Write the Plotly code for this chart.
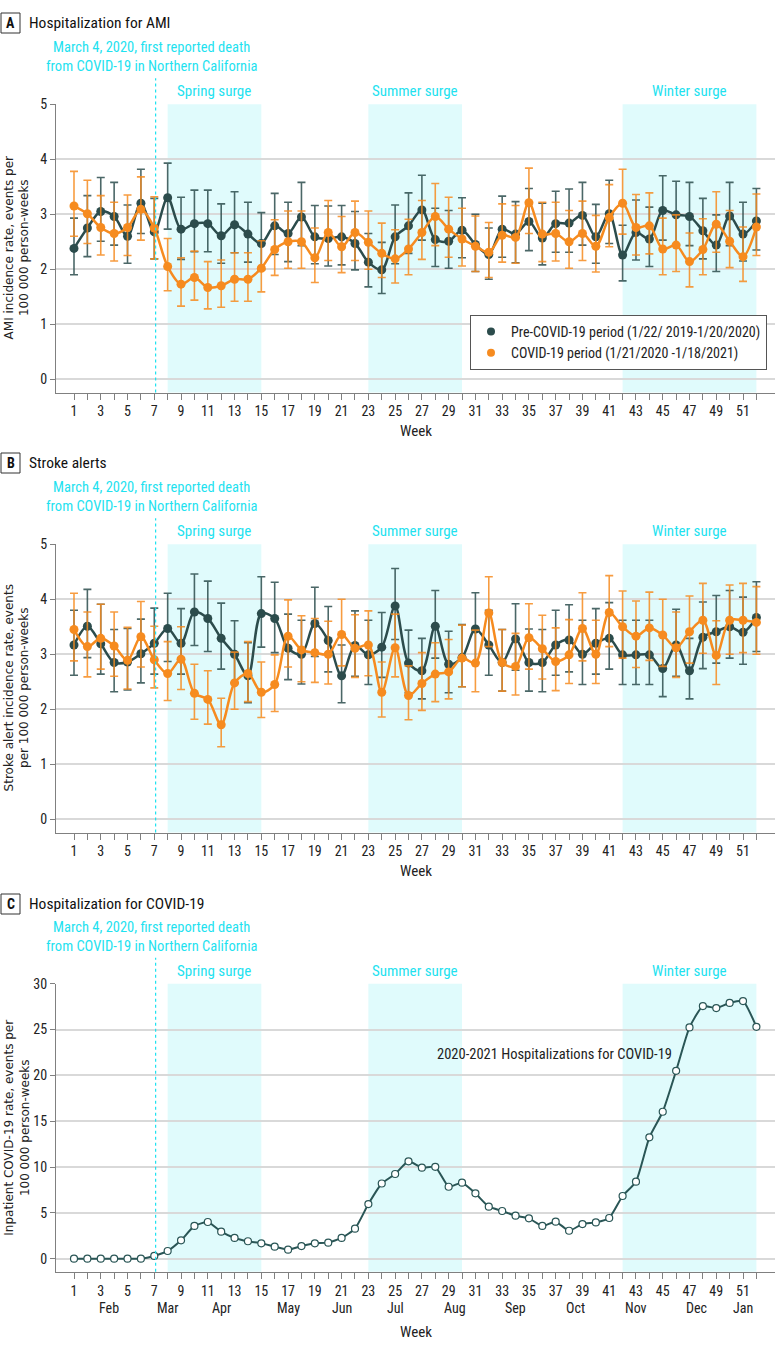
import plotly.graph_objects as go

W, H = 780, 1349

weeks = list(range(1, 53))
odd_week_labels = [str(w) if w % 2 == 1 else '' for w in weeks]

# Panel A - AMI hospitalization rate per 100 000 person-weeks
ami_pre = [2.38, 2.75, 3.05, 2.96, 2.60, 3.20, 2.68, 3.30, 2.73, 2.83, 2.83, 2.61, 2.81, 2.64, 2.47, 2.79, 2.65,
           2.95, 2.59, 2.56, 2.59, 2.47, 2.13, 1.99, 2.59, 2.79, 3.08, 2.54, 2.51, 2.71, 2.45, 2.27, 2.73, 2.64,
           2.87, 2.57, 2.83, 2.84, 2.98, 2.59, 3.01, 2.26, 2.67, 2.55, 3.07, 2.99, 2.96, 2.70, 2.44, 2.97, 2.64, 2.88]
ami_pre_hi = [2.93, 3.34, 3.67, 3.58, 3.17, 3.82, 3.29, 3.93, 3.31, 3.44, 3.44, 3.19, 3.41, 3.22, 3.03, 3.38, 3.22,
              3.58, 3.16, 3.15, 3.16, 3.05, 2.65, 2.49, 3.17, 3.39, 3.71, 3.11, 3.07, 3.30, 3.00, 2.75, 3.33, 3.23,
              3.47, 3.20, 3.42, 3.46, 3.58, 3.18, 3.62, 2.80, 3.26, 3.13, 3.70, 3.60, 3.58, 3.29, 2.99, 3.58, 3.22, 3.47]
ami_pre_lo = [1.90, 2.23, 2.51, 2.44, 2.11, 2.65, 2.19, 2.73, 2.18, 2.32, 2.32, 2.11, 2.30, 2.13, 1.99, 2.27, 2.14,
              2.43, 2.10, 2.06, 2.08, 1.99, 1.68, 1.56, 2.10, 2.29, 2.53, 2.05, 2.02, 2.21, 1.96, 1.82, 2.22, 2.12,
              2.34, 2.08, 2.31, 2.31, 2.44, 2.11, 2.47, 1.79, 2.17, 2.05, 2.53, 2.44, 2.43, 2.19, 1.96, 2.43, 2.15, 2.35]
ami_cov = [3.15, 3.01, 2.76, 2.65, 2.76, 3.09, 2.75, 2.05, 1.73, 1.85, 1.67, 1.70, 1.82, 1.82, 2.02, 2.36, 2.50,
           2.50, 2.21, 2.67, 2.41, 2.67, 2.49, 2.29, 2.19, 2.37, 2.67, 2.96, 2.73, 2.55, 2.42, 2.31, 2.62, 2.58,
           3.21, 2.64, 2.65, 2.50, 2.65, 2.42, 2.94, 3.20, 2.76, 2.79, 2.37, 2.44, 2.14, 2.36, 2.82, 2.51, 2.23, 2.77]
ami_cov_hi = [3.78, 3.62, 3.34, 3.22, 3.35, 3.68, 3.32, 2.56, 2.21, 2.33, 2.14, 2.17, 2.30, 2.30, 2.52, 2.90, 3.06,
              3.06, 2.75, 3.25, 2.96, 3.24, 3.06, 2.84, 2.72, 2.91, 3.25, 3.56, 3.31, 3.11, 2.97, 2.85, 3.19, 3.16,
              3.84, 3.22, 3.22, 3.07, 3.24, 2.98, 3.54, 3.82, 3.36, 3.39, 2.93, 2.99, 2.66, 2.92, 3.41, 3.07, 2.77, 3.37]
ami_cov_lo = [2.60, 2.47, 2.26, 2.15, 2.25, 2.53, 2.19, 1.61, 1.33, 1.44, 1.28, 1.31, 1.42, 1.42, 1.59, 1.89, 2.02,
              2.02, 1.76, 2.16, 1.94, 2.16, 2.00, 1.85, 1.75, 1.90, 2.18, 2.43, 2.22, 2.06, 1.96, 1.85, 2.13, 2.11,
              2.65, 2.14, 2.15, 2.02, 2.16, 1.95, 2.41, 2.64, 2.26, 2.28, 1.90, 1.96, 1.68, 1.90, 2.31, 2.03, 1.78, 2.25]

# Panel B - stroke alerts per 100 000 person-weeks
stroke_pre = [3.17, 3.51, 3.19, 2.85, 2.86, 3.01, 3.20, 3.47, 3.20, 3.77, 3.65, 3.29, 3.00, 2.61, 3.74, 3.65, 3.11,
              3.00, 3.56, 3.25, 2.61, 3.16, 2.99, 3.13, 3.88, 2.84, 2.70, 3.51, 2.82, 2.94, 3.46, 3.17, 2.85, 3.28,
              2.85, 2.85, 3.17, 3.26, 3.00, 3.20, 3.29, 2.99, 2.99, 2.99, 2.74, 3.17, 2.70, 3.31, 3.41, 3.50, 3.40, 3.67]
stroke_pre_hi = [3.80, 4.18, 3.91, 3.45, 3.47, 3.64, 3.84, 4.11, 3.83, 4.46, 4.33, 3.93, 3.61, 3.21, 4.41, 4.31, 3.73,
                 3.62, 4.22, 3.87, 3.17, 3.79, 3.62, 3.76, 4.56, 3.44, 3.29, 4.16, 3.42, 3.54, 4.12, 3.80, 3.45, 3.92,
                 3.46, 3.45, 3.80, 3.90, 3.62, 3.83, 3.94, 3.62, 3.62, 3.62, 3.34, 3.82, 3.29, 3.95, 4.07, 4.16, 4.04, 4.32]
stroke_pre_lo = [2.62, 2.94, 2.64, 2.32, 2.35, 2.48, 2.64, 2.87, 2.64, 3.16, 3.05, 2.73, 2.48, 2.12, 3.13, 3.03, 2.54,
                 2.46, 2.96, 2.68, 2.12, 2.60, 2.45, 2.58, 3.27, 2.30, 2.19, 2.93, 2.30, 2.41, 2.85, 2.62, 2.33, 2.71,
                 2.33, 2.32, 2.62, 2.68, 2.45, 2.64, 2.73, 2.45, 2.45, 2.45, 2.23, 2.60, 2.19, 2.74, 2.84, 2.93, 2.82, 3.05]
stroke_cov = [3.45, 3.14, 3.29, 3.15, 2.89, 3.32, 2.90, 2.65, 2.91, 2.29, 2.18, 1.72, 2.48, 2.65, 2.31, 2.45, 3.33,
              3.08, 3.03, 3.00, 3.36, 3.11, 3.17, 2.31, 3.12, 2.25, 2.47, 2.64, 2.68, 2.93, 2.84, 3.75, 2.85, 2.78,
              3.30, 3.10, 2.87, 2.99, 3.47, 3.00, 3.76, 3.50, 3.33, 3.48, 3.35, 3.12, 3.41, 3.62, 2.98, 3.62, 3.62, 3.58]
stroke_cov_hi = [4.11, 3.77, 3.91, 3.77, 3.49, 3.96, 3.51, 3.23, 3.50, 2.82, 2.70, 2.20, 3.04, 3.23, 2.86, 2.99, 3.99,
                 3.70, 3.65, 3.60, 4.00, 3.72, 3.79, 2.86, 3.73, 2.79, 3.03, 3.21, 3.27, 3.53, 3.44, 4.41, 3.45, 3.38,
                 3.92, 3.71, 3.48, 3.63, 4.12, 3.62, 4.43, 4.15, 3.97, 4.13, 4.00, 3.77, 4.06, 4.29, 3.61, 4.26, 4.29, 4.23]
stroke_cov_lo = [2.88, 2.59, 2.73, 2.60, 2.37, 2.77, 2.39, 2.16, 2.36, 1.82, 1.73, 1.32, 2.00, 2.14, 1.85, 1.96, 2.77,
                 2.50, 2.49, 2.46, 2.79, 2.58, 2.61, 1.86, 2.59, 1.81, 1.98, 2.14, 2.19, 2.41, 2.32, 3.14, 2.33, 2.26,
                 2.73, 2.55, 2.34, 2.47, 2.88, 2.47, 3.14, 2.93, 2.76, 2.89, 2.78, 2.58, 2.84, 3.02, 2.45, 3.00, 3.03, 3.00]

# Panel C - inpatient COVID-19 rate per 100 000 person-weeks
covid_hosp = [0, 0, 0, 0, 0, 0, 0.3, 0.84, 2.0, 3.57, 4.0, 2.95, 2.26, 1.9, 1.68, 1.31, 0.98, 1.38, 1.68, 1.75,
              2.26, 3.27, 5.96, 8.2, 9.24, 10.62, 9.93, 10.02, 7.85, 8.29, 7.13, 5.67, 5.2, 4.69, 4.4, 3.57, 4.04,
              3.05, 3.78, 3.96, 4.44, 6.84, 8.4, 13.24, 16.03, 20.5, 25.23, 27.56, 27.34, 27.9, 28.1, 25.3]

months = ['Feb', 'Mar', 'Apr', 'May', 'Jun', 'Jul', 'Aug', 'Sep', 'Oct', 'Nov', 'Dec', 'Jan']
month_weeks = [3.6, 8.05, 12, 17, 21, 25, 29.5, 34, 38.5, 43, 47.5, 51]

surges = [('Spring surge', 8, 15), ('Summer surge', 23, 30), ('Winter surge', 42, 52)]
first_death_week = 7.1

pre_name = 'Pre-COVID-19 period (1/22/ 2019-1/20/2020)'
cov_name = 'COVID-19 period (1/21/2020 -1/18/2021)'

DARK = '#2c4c4c'
ORANGE = '#f68b1f'
CYAN = '#1ee2f0'
SHADE = '#e0fbfc'
GRID = '#d9d9d9'
AXIS = '#808080'
NARROW = 'Liberation Sans Narrow, Roboto Condensed, Arial Narrow, Roboto, sans-serif'
WIDE = 'DejaVu Sans, sans-serif'


def px(x):
    return x / W


def py(y):
    return 1 - y / H


# pixel boxes of the three plot areas (top, bottom)
panels = [
    dict(top=104.3, bottom=392.5, yr=[-0.24, 5], dt=1, letter='A', title='Hospitalization for AMI',
         ytitle='AMI incidence rate, events per<br>100 000 person-weeks', title_y=23),
    dict(top=544.3, bottom=832.5, yr=[-0.24, 5], dt=1, letter='B', title='Stroke alerts',
         ytitle='Stroke alert incidence rate, events<br>per 100 000 person-weeks', title_y=463),
    dict(top=983.7, bottom=1271.7, yr=[-1.42, 30], dt=5, letter='C', title='Hospitalization for COVID-19',
         ytitle='Inpatient COVID-19 rate, events per<br>100 000 person-weeks', title_y=904),
]
x_left, x_right = 56, 775

fig = go.Figure()


def err(v, hi, lo):
    return dict(type='data', symmetric=False,
                array=[h - a for a, h in zip(v, hi)],
                arrayminus=[a - l for a, l in zip(v, lo)])


series = [
    (1, ami_pre, ami_pre_hi, ami_pre_lo, DARK, 'rgba(44,76,76,0.85)'),
    (1, ami_cov, ami_cov_hi, ami_cov_lo, ORANGE, 'rgba(246,139,31,0.85)'),
    (2, stroke_pre, stroke_pre_hi, stroke_pre_lo, DARK, 'rgba(44,76,76,0.85)'),
    (2, stroke_cov, stroke_cov_hi, stroke_cov_lo, ORANGE, 'rgba(246,139,31,0.85)'),
]
for i, v, hi, lo, col, ecol in series:
    sfx = '' if i == 1 else str(i)
    e = err(v, hi, lo)
    e.update(color=ecol, thickness=1.6, width=4)
    fig.add_trace(go.Scatter(x=weeks, y=v, mode='lines+markers', error_y=e,
                             line=dict(color=col, width=2.5, shape='spline', smoothing=0.9),
                             marker=dict(color=col, size=9), showlegend=False,
                             xaxis='x' + sfx, yaxis='y' + sfx))

fig.add_trace(go.Scatter(x=weeks, y=covid_hosp, mode='lines+markers',
                         line=dict(color='#2a5656', width=2, shape='spline', smoothing=0.5),
                         marker=dict(color='white', size=7, line=dict(color='#2a5656', width=1.2)),
                         showlegend=False, xaxis='x3', yaxis='y3'))

# legend-only markers
fig.add_trace(go.Scatter(x=[None], y=[None], mode='markers', name=pre_name,
                         marker=dict(color=DARK, size=8)))
fig.add_trace(go.Scatter(x=[None], y=[None], mode='markers', name=cov_name,
                         marker=dict(color=ORANGE, size=8)))

shapes = []
annotations = []
layout_axes = {}
for n, p in enumerate(panels, start=1):
    sfx = '' if n == 1 else str(n)
    dom = [py(p['bottom']), py(p['top'])]
    layout_axes['xaxis' + sfx] = dict(domain=[px(x_left), px(x_right)], range=[-0.345, 53.39],
                                      anchor='y' + sfx, tickmode='array', tickvals=weeks,
                                      ticktext=odd_week_labels, ticks='outside', ticklen=6,
                                      tickcolor=AXIS, showline=True, linecolor=AXIS, linewidth=1,
                                      showgrid=False, zeroline=False, automargin=False,
                                      tickfont=dict(family=NARROW, size=14, color='#222'))
    layout_axes['yaxis' + sfx] = dict(domain=dom, range=p['yr'], anchor='x' + sfx, dtick=p['dt'],
                                      ticks='outside', ticklen=5, tickcolor=AXIS, showline=True,
                                      linecolor=AXIS, linewidth=1, gridcolor=GRID, gridwidth=1.5,
                                      zeroline=False, automargin=False,
                                      tickfont=dict(family=NARROW, size=14, color='#222'))
    xr = 'x' + sfx
    yd = ('y' + sfx) + ' domain'
    for label, a, b in surges:
        shapes.append(dict(type='rect', xref=xr, yref=yd, x0=a, x1=b, y0=0, y1=1,
                           fillcolor=SHADE, line=dict(width=0), layer='below'))
        annotations.append(dict(text=label, xref=xr, yref='paper', x=(a + b) / 2, y=dom[1],
                                xanchor='center', yanchor='bottom', yshift=2, showarrow=False,
                                font=dict(family=NARROW, size=15, color=CYAN)))
    shapes.append(dict(type='line', xref=xr, yref='paper', x0=first_death_week, x1=first_death_week,
                       y0=dom[0], y1=py(p['top'] - 26), line=dict(color=CYAN, width=1.2, dash='dot')))
    annotations.append(dict(text='March 4, 2020, first reported death<br>from COVID-19 in Northern California',
                            xref='paper', yref='paper', x=px(151), y=py(p['top'] - 27), xanchor='center',
                            yanchor='bottom', showarrow=False, font=dict(family=NARROW, size=14.5, color=CYAN)))
    # panel letter box and title
    ty = p['title_y']
    shapes.append(dict(type='rect', xref='paper', yref='paper', x0=px(1), x1=px(20),
                       y0=py(ty + 10), y1=py(ty - 10), line=dict(color='#333', width=1)))
    annotations.append(dict(text='<b>' + p['letter'] + '</b>', xref='paper', yref='paper', x=px(10.5),
                            y=py(ty), xanchor='center', yanchor='middle', showarrow=False,
                            font=dict(family=NARROW, size=14, color='#111')))
    annotations.append(dict(text=p['title'], xref='paper', yref='paper', x=px(27), y=py(ty),
                            xanchor='left', yanchor='middle', showarrow=False,
                            font=dict(family=NARROW, size=15.5, color='#111')))
    # y title
    annotations.append(dict(text=p['ytitle'], xref='paper', yref='paper', x=px(17),
                            y=(dom[0] + dom[1]) / 2, xanchor='center', yanchor='middle',
                            textangle=-90, showarrow=False,
                            font=dict(family=WIDE, size=12, color='#222')))
    # x title
    wy = p['bottom'] + (60 if n == 3 else 38)
    annotations.append(dict(text='Week', xref='paper', yref='paper', x=px((x_left + x_right) / 2),
                            y=py(wy), xanchor='center', yanchor='middle', showarrow=False,
                            font=dict(family=NARROW, size=15, color='#222')))

for m, wk in zip(months, month_weeks):
    annotations.append(dict(text=m, xref='x3', yref='paper', x=wk, y=py(1308), xanchor='center',
                            yanchor='middle', showarrow=False,
                            font=dict(family=NARROW, size=14, color='#222')))

annotations.append(dict(text='2020-2021 Hospitalizations for COVID-19', xref='x3', yref='y3', x=36.9, y=22.3,
                        xanchor='center', yanchor='middle', showarrow=False,
                        font=dict(family=NARROW, size=14.5, color='#222')))

fig.update_layout(width=W, height=H, autosize=False,
                  margin=dict(l=0, r=0, t=0, b=0, pad=0, autoexpand=False),
                  plot_bgcolor='white', paper_bgcolor='white', shapes=shapes, annotations=annotations,
                  legend=dict(x=px(470), y=py(315), xanchor='left', yanchor='top', bgcolor='white',
                              bordercolor='#555', borderwidth=1, tracegroupgap=0, itemwidth=30,
                              font=dict(family=NARROW, size=14, color='#222')),
                  **layout_axes)

# the page body keeps a default 8px margin; drop it so the figure sits at the window's corner
fig.write_html('out.html', config={'displayModeBar': False},
               post_script="document.body.style.margin = '0';")
